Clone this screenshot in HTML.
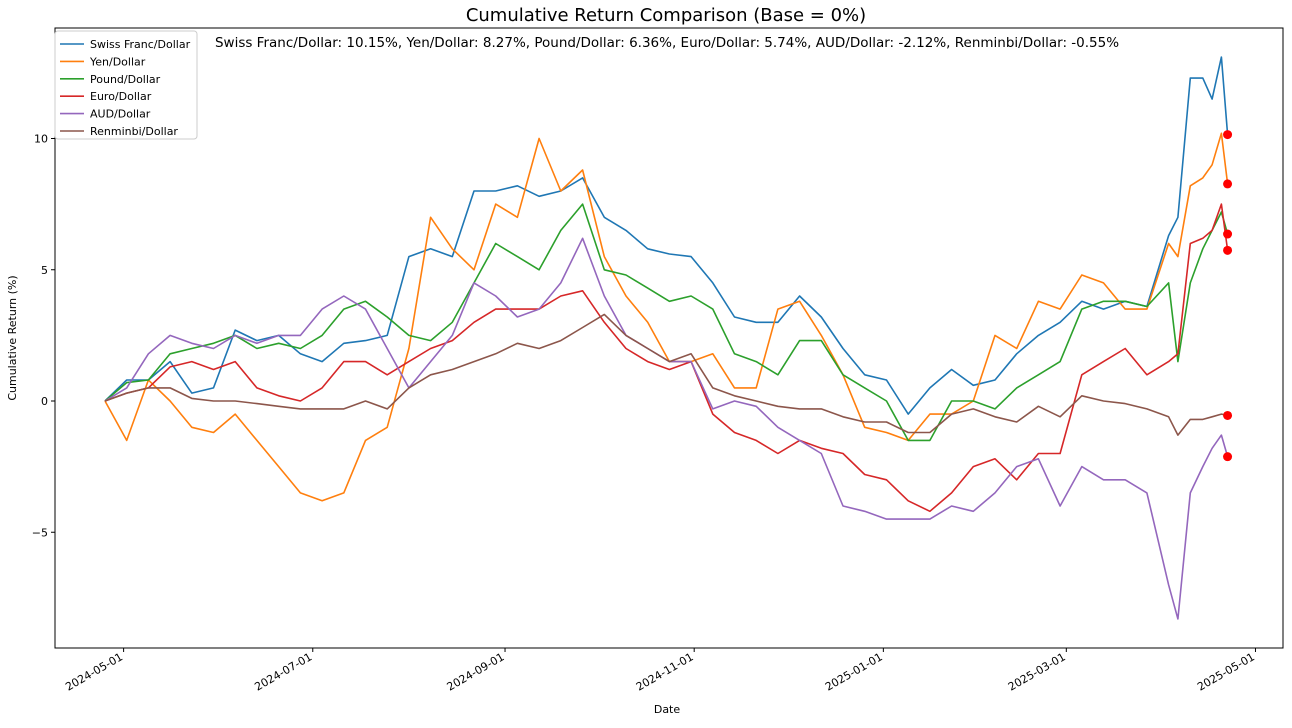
<!DOCTYPE html>
<html><head><meta charset="utf-8"><style>
body{margin:0;background:#fff;font-family:"Liberation Sans","DejaVu Sans",sans-serif}
svg text{font-family:"DejaVu Sans","Liberation Sans",sans-serif}
</style></head><body>
<svg id="chart" width="1292" height="723" xmlns="http://www.w3.org/2000/svg">
<rect x="0" y="0" width="1292" height="723" fill="#fff"/>
<text x="666" y="21" text-anchor="middle" font-size="18">Cumulative Return Comparison (Base = 0%)</text>
<text x="667" y="47" text-anchor="middle" font-size="13.5">Swiss Franc/Dollar: 10.15%, Yen/Dollar: 8.27%, Pound/Dollar: 6.36%, Euro/Dollar: 5.74%, AUD/Dollar: -2.12%, Renminbi/Dollar: -0.55%</text>
<g id="plot"></g>
<rect x="55" y="28" width="1228" height="620" fill="none" stroke="#000" stroke-width="1"/>
<text x="667" y="713" text-anchor="middle" font-size="11">Date</text>
<text transform="translate(16,338) rotate(-90)" text-anchor="middle" font-size="11">Cumulative Return (%)</text>
<g id="legend"></g>
</svg>
<script>
const days=[0,7,14,21,28,35,42,49,56,63,70,77,84,91,98,105,112,119,126,133,140,147,154,161,168,175,182,189,196,203,210,217,224,231,238,245,252,259,266,273,280,287,294,301,308,315,322,329,336,343,346,350,354,357,360,362];
const seriesNames=["Swiss Franc/Dollar","Yen/Dollar","Pound/Dollar","Euro/Dollar","AUD/Dollar","Renminbi/Dollar"];
const swiss=[0,0.8,0.8,1.5,0.3,0.5,2.7,2.3,2.5,1.8,1.5,2.2,2.3,2.5,5.5,5.8,5.5,8.0,8.0,8.2,7.8,8.0,8.5,7.0,6.5,5.8,5.6,5.5,4.5,3.2,3.0,3.0,4.0,3.2,2.0,1.0,0.8,-0.5,0.5,1.2,0.6,0.8,1.8,2.5,3.0,3.8,3.5,3.8,3.6,6.3,7.0,12.3,12.3,11.5,13.1,10.15];
const yen=[0,-1.5,0.8,0.0,-1.0,-1.2,-0.5,-1.5,-2.5,-3.5,-3.8,-3.5,-1.5,-1.0,2.0,7.0,5.8,5.0,7.5,7.0,10.0,8.0,8.8,5.5,4.0,3.0,1.5,1.5,1.8,0.5,0.5,3.5,3.8,2.5,1.0,-1.0,-1.2,-1.5,-0.5,-0.5,0.0,2.5,2.0,3.8,3.5,4.8,4.5,3.5,3.5,6.0,5.5,8.2,8.5,9.0,10.2,8.27];
const pound=[0,0.7,0.8,1.8,2.0,2.2,2.5,2.0,2.2,2.0,2.5,3.5,3.8,3.2,2.5,2.3,3.0,4.5,6.0,5.5,5.0,6.5,7.5,5.0,4.8,4.3,3.8,4.0,3.5,1.8,1.5,1.0,2.3,2.3,1.0,0.5,0.0,-1.5,-1.5,0.0,0.0,-0.3,0.5,1.0,1.5,3.5,3.8,3.8,3.6,4.5,1.5,4.5,5.8,6.5,7.2,6.36];
const euro=[0,0.3,0.5,1.3,1.5,1.2,1.5,0.5,0.2,0.0,0.5,1.5,1.5,1.0,1.5,2.0,2.3,3.0,3.5,3.5,3.5,4.0,4.2,3.0,2.0,1.5,1.2,1.5,-0.5,-1.2,-1.5,-2.0,-1.5,-1.8,-2.0,-2.8,-3.0,-3.8,-4.2,-3.5,-2.5,-2.2,-3.0,-2.0,-2.0,1.0,1.5,2.0,1.0,1.5,1.8,6.0,6.2,6.5,7.5,5.74];
const aud=[0,0.5,1.8,2.5,2.2,2.0,2.5,2.2,2.5,2.5,3.5,4.0,3.5,2.0,0.5,1.5,2.5,4.5,4.0,3.2,3.5,4.5,6.2,4.0,2.5,2.0,1.5,1.5,-0.3,0.0,-0.2,-1.0,-1.5,-2.0,-4.0,-4.2,-4.5,-4.5,-4.5,-4.0,-4.2,-3.5,-2.5,-2.2,-4.0,-2.5,-3.0,-3.0,-3.5,-7.0,-8.3,-3.5,-2.5,-1.8,-1.3,-2.12];
const rmb=[0,0.3,0.5,0.5,0.1,0.0,0.0,-0.1,-0.2,-0.3,-0.3,-0.3,0.0,-0.3,0.5,1.0,1.2,1.5,1.8,2.2,2.0,2.3,2.8,3.3,2.5,2.0,1.5,1.8,0.5,0.2,0.0,-0.2,-0.3,-0.3,-0.6,-0.8,-0.8,-1.2,-1.2,-0.5,-0.3,-0.6,-0.8,-0.2,-0.6,0.2,0.0,-0.1,-0.3,-0.6,-1.3,-0.7,-0.7,-0.6,-0.5,-0.55];
const xTickDays=[6,67,129,190,251,310,371];
const xTickLabels=["2024-05-01","2024-07-01","2024-09-01","2024-11-01","2025-01-01","2025-03-01","2025-05-01"];
const yTicks=[-5,0,5,10];
const colors=["#1f77b4","#ff7f0e","#2ca02c","#d62728","#9467bd","#8c564b"];
const allSeries=[swiss,yen,pound,euro,aud,rmb];
const NS="http://www.w3.org/2000/svg";
function xs(d){return 105+d*3.101;}
function ys(v){return 401-v*26.25;}
const plot=document.getElementById('plot');
function mk(tag,attrs,parent){const e=document.createElementNS(NS,tag);for(const k in attrs)e.setAttribute(k,attrs[k]);parent.appendChild(e);return e;}
yTicks.forEach(t=>{
  const y=ys(t);
  const l=mk('line',{x1:51,x2:55,y1:y,y2:y,stroke:'#000'},plot);
  
  
  const tx=mk('text',{x:48,y:y+4,'text-anchor':'end','font-size':11},plot);
  
  
  tx.textContent=t===0?'0':(t<0?'\u2212'+Math.abs(t):String(t));
});
xTickDays.forEach((d,i)=>{
  const x=xs(d);
  const l=mk('line',{x1:x,x2:x,y1:648,y2:652,stroke:'#000'},plot);
  
  
  const tx=mk('text',{x:x,y:659,'text-anchor':'end','font-size':11,transform:'rotate(-30 '+x+' 659)'},plot);
  
  
  tx.textContent=xTickLabels[i];
});
allSeries.forEach((s,si)=>{
  const pts=s.map((v,i)=>xs(days[i]).toFixed(1)+','+ys(v).toFixed(1)).join(' ');
  const p=mk('polyline',{points:pts,fill:'none',stroke:colors[si],'stroke-width':1.6,'stroke-linejoin':'round'},plot);
  
  
});
allSeries.forEach((s,si)=>{
  const c=mk('circle',{cx:xs(days[days.length-1]),cy:ys(s[s.length-1]),r:4.5,fill:'#ff0000'},plot);
  
  
});
const lg=document.getElementById('legend');
const box=mk('rect',{x:55,y:31,width:142,height:108,fill:'#fff',stroke:'#ccc',rx:3},lg);


seriesNames.forEach((n,i)=>{
  const y=44+i*17.4;
  const l=mk('line',{x1:60,x2:84,y1:y,y2:y,stroke:colors[i],'stroke-width':1.6},lg);
  
  
  const t=mk('text',{x:90,y:y+4,'font-size':11},lg);
  
  
  t.textContent=n;
});
</script>
</body></html>
